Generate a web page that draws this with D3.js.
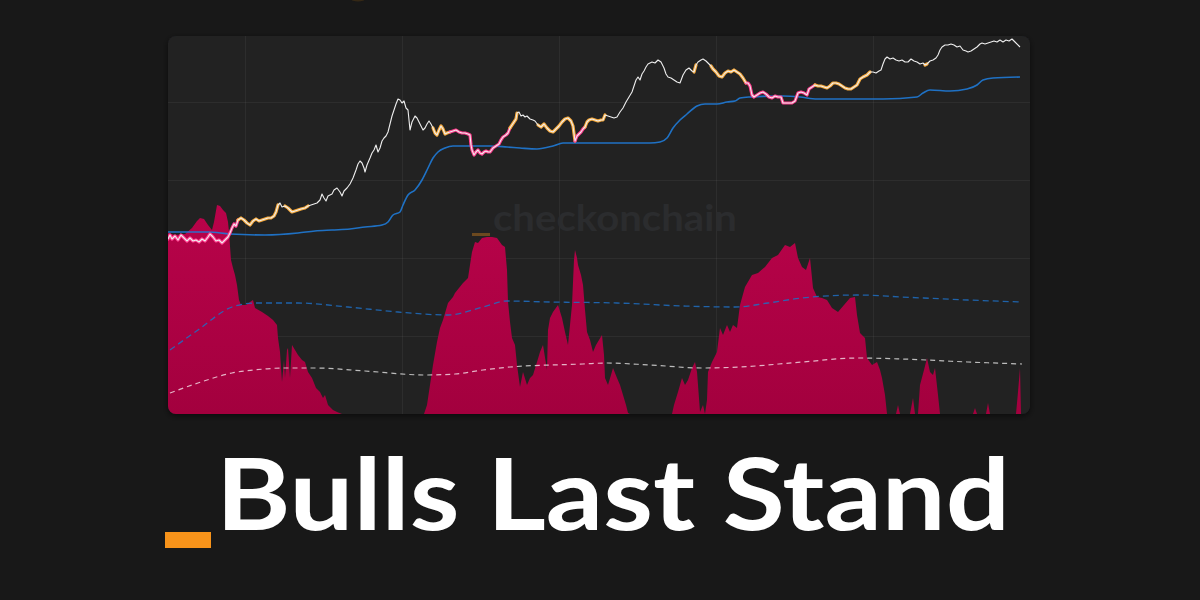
<!DOCTYPE html>
<html><head><meta charset="utf-8">
<script src="https://cdn.jsdelivr.net/npm/d3@7"></script>
<style>html,body{margin:0;padding:0;background:#181818;overflow:hidden}</style>
</head><body><svg id="c" width="1200" height="600"></svg>
<script>
// ---- data (day index, value) ----
const price = [[0,175],[2,179],[4,175],[7,178],[10,174],[13,179],[16,176],[19,173],[22,176],[25,173],[28,174],[31,172],[34,175],[37,173],[40,177],[42,180],[45,177],[48,173],[51,174],[54,171],[57,174],[60,177],[62,181],[64,186],[66,190],[68,188],[70,194],[73,196],[76,194],[79,191],[82,189],[85,193],[88,195],[91,193],[94,194],[97,195],[100,196],[103,196],[106,198],[108,202],[110,209],[112,211],[114,207],[117,208],[120,206],[122,204],[124,202],[127,203],[130,204],[133,205],[137,206],[140,208],[143,209],[146,210],[149,211],[152,214],[154,220],[156,216],[158,213],[160,218],[162,219],[164,220],[166,224],[169,226],[172,222],[174,218],[176,223],[179,226],[182,230],[185,236],[188,244],[190,250],[192,253],[194,251],[196,246],[197,242],[199,249],[202,256],[204,261],[206,264],[208,269],[210,262],[212,266],[214,273],[216,276],[218,278],[220,282],[222,290],[224,298],[226,304],[228,310],[230,315],[232,314],[234,311],[236,313],[238,306],[240,304],[242,284],[244,292],[247,298],[249,296],[251,292],[253,288],[255,284],[257,286],[259,290],[261,293],[263,290],[265,286],[267,281],[269,279],[271,284],[273,288],[275,285],[277,280],[279,281],[282,282],[285,283],[288,284],[291,282],[294,281],[297,281],[300,280],[302,279],[303,269],[304,264],[306,259],[308,262],[310,264],[312,261],[314,260],[316,262],[318,263],[320,262],[322,262],[325,266],[328,268],[331,270],[333,274],[335,277],[338,279],[340,281],[342,286],[344,289],[346,292],[348,295],[349,301],[351,302],[353,298],[355,299],[357,297],[359,298],[362,295],[365,294],[367,293],[370,289],[373,287],[376,290],[379,286],[382,283],[385,282],[388,285],[391,288],[394,292],[397,295],[400,296],[403,293],[405,288],[407,273],[409,278],[411,280],[413,282],[415,285],[417,287],[419,292],[421,294],[424,295],[427,294],[430,293],[433,294],[435,294],[437,299],[440,298],[443,297],[446,296],[449,297],[452,302],[455,306],[458,312],[461,317],[464,322],[466,328],[468,334],[470,337],[472,334],[474,340],[476,343],[478,347],[480,350],[482,351],[484,352],[487,351],[490,354],[493,352],[496,346],[498,340],[500,337],[503,336],[506,334],[509,332],[512,331],[515,339],[518,344],[521,346],[524,343],[526,342],[528,349],[530,352],[533,354],[535,355],[538,353],[541,350],[543,348],[545,345],[548,342],[551,338],[554,337],[557,341],[560,343],[563,342],[566,344],[569,342],[572,340],[575,336],[578,331],[580,331],[582,328],[584,319],[586,317],[589,319],[592,321],[595,322],[598,320],[601,317],[604,316],[607,318],[610,317],[613,317],[615,311],[618,311],[621,311],[624,311],[627,313],[630,321],[633,322],[636,321],[639,319],[641,325],[644,327],[647,329],[650,328],[653,328],[656,327],[659,326],[662,328],[665,331],[668,331],[671,330],[674,328],[677,326],[680,325],[683,325],[686,327],[689,329],[692,335],[695,337],[699,339],[702,342],[705,342],[708,341],[711,343],[713,344],[715,350],[717,355],[719,357],[722,355],[725,356],[728,354],[731,353],[734,354],[737,352],[740,352],[743,355],[746,353],[749,352],[752,350],[755,351],[757,349],[759,350],[762,353],[765,354],[768,356],[770,359],[772,364],[774,367],[777,369],[780,369],[783,370],[786,369],[789,367],[792,368],[795,364],[798,363],[800,362],[803,363],[806,365],[809,367],[812,370],[814,371],[817,370],[820,371],[823,372],[826,373],[829,372],[832,374],[835,372],[838,374],[841,373],[844,375],[847,372],[852,367]];

// regime of the price vs cost basis: start day, state
const priceRegimes = [[0,'below'],[70,'near'],[110,'above'],[116,'near'],[140,'above'],[265,'near'],[282,'below'],[342,'near'],[349,'above'],[369,'near'],[407,'below'],[417,'near'],[437,'above'],[525,'near'],[528,'above'],[543,'near'],[578,'below'],[647,'near'],[702,'above'],[756,'near'],[759,'above']];

const costBasis = [[0,182],[40,182],[62,180],[97,179],[130,181],[147,183],[164,184],[182,185],[197,187],[214,189],[220,192],[225,199],[232,202],[235,209],[240,219],[247,224],[254,234],[260,246],[265,256],[270,262],[277,266],[285,268],[305,268],[322,268],[339,267],[352,266],[369,265],[385,268],[395,271],[415,271],[449,271],[482,271],[492,272],[499,276],[505,286],[512,294],[519,300],[529,308],[537,310],[549,310],[559,312],[567,313],[572,316],[582,317],[615,318],[632,317],[649,315],[682,315],[715,315],[749,317],[755,321],[762,324],[782,323],[799,325],[809,329],[815,334],[825,336],[852,337]];

const oscillator = [[0,181],[7,179],[17,180],[24,186],[29,193],[32,196],[36,195],[40,189],[44,184],[46,192],[49,209],[52,208],[55,204],[58,201],[60,192],[61,182],[63,154],[65,146],[67,139],[69,129],[71,114],[73,109],[78,109],[82,112],[85,114],[87,106],[94,102],[100,98],[105,94],[109,89],[110,76],[112,62],[114,32],[116,54],[117,36],[119,64],[120,66],[122,36],[124,69],[127,64],[130,59],[134,54],[137,52],[140,42],[144,36],[148,26],[152,22],[155,16],[157,19],[160,9],[165,4],[169,2],[174,0],[256,0],[259,9],[262,29],[265,49],[269,72],[272,86],[275,94],[280,111],[285,117],[287,121],[291,126],[295,131],[300,136],[302,149],[304,162],[307,172],[310,171],[314,176],[319,177],[324,177],[329,176],[334,169],[337,167],[339,144],[340,112],[342,92],[344,76],[347,69],[349,49],[352,27],[355,42],[359,29],[362,36],[365,39],[369,52],[372,62],[375,69],[379,44],[380,84],[382,96],[385,102],[390,109],[394,96],[397,82],[400,69],[402,89],[404,109],[406,154],[407,164],[409,156],[410,149],[413,139],[415,129],[417,104],[419,82],[422,74],[425,62],[428,69],[431,74],[434,79],[436,59],[437,36],[440,29],[443,39],[445,46],[449,36],[452,29],[455,19],[458,9],[460,1],[462,0],[504,0],[506,9],[510,22],[514,36],[517,29],[520,34],[524,46],[527,52],[529,42],[530,29],[532,2],[535,9],[537,0],[539,14],[540,42],[544,52],[549,62],[552,86],[555,79],[559,89],[562,82],[565,89],[569,86],[572,109],[577,127],[584,139],[590,141],[597,147],[604,156],[610,159],[617,169],[622,167],[627,171],[630,156],[634,147],[638,144],[642,156],[645,126],[649,117],[654,116],[659,114],[664,106],[670,102],[676,109],[682,116],[687,117],[689,99],[692,81],[697,76],[699,56],[704,49],[709,52],[712,44],[714,36],[717,19],[719,0],[728,0],[730,9],[732,0],[742,0],[745,16],[747,0],[750,0],[752,29],[756,44],[759,56],[762,42],[765,39],[767,46],[770,19],[772,0],[805,0],[807,6],[809,0],[818,0],[820,11],[822,0],[848,0],[850,22],[852,46],[853,0]];

const oscUpperBand = [[2,64],[30,84],[64,107],[87,111],[130,111],[180,107],[230,102],[280,99],[315,107],[339,113],[382,112],[449,111],[515,108],[567,107],[600,111],[634,116],[690,119],[734,117],[800,114],[854,112]];
const oscLowerBand = [[2,21],[30,31],[64,41],[97,45],[114,46],[147,46],[197,43],[257,39],[287,40],[315,44],[342,47],[415,50],[439,51],[482,49],[535,46],[572,47],[634,52],[690,56],[734,55],[800,52],[854,50]];

const xGridTicks = [77,234,391,548,705];
const yGridTicks = [78,156,234,312];
const titleText = "Bulls Last Stand";
const watermarkText = "checkonchain";

// ---- layout ----
const P = {x:168, y:36, w:862, h:378, r:8};
const svg = d3.select('#c');
const x = d3.scaleLinear().domain([0,854]).range([168,1022]);
const yP = d3.scaleLinear().domain([0,378]).range([414,36]);
const yO = d3.scaleLinear().domain([0,378]).range([414,36]);

const defs = svg.append('defs');
defs.append('clipPath').attr('id','pc').append('rect')
  .attr('x',P.x).attr('y',P.y).attr('width',P.w).attr('height',P.h).attr('rx',P.r);
const f = defs.append('filter').attr('id','sh').attr('x','-5%').attr('y','-5%').attr('width','110%').attr('height','115%');
f.append('feDropShadow').attr('dx',0).attr('dy',2).attr('stdDeviation',3).attr('flood-color','#000').attr('flood-opacity',0.55);
const g = defs.append('linearGradient').attr('id','ag').attr('gradientUnits','userSpaceOnUse')
  .attr('x1',0).attr('x2',0).attr('y1',200).attr('y2',414);
g.append('stop').attr('offset',0).attr('stop-color','#b9034a');
g.append('stop').attr('offset',1).attr('stop-color','#a3003e');

// faint top blob
svg.append('ellipse').attr('cx',358).attr('cy',-1).attr('rx',7).attr('ry',2.5).attr('fill','#4a3414').attr('opacity',0.6);

// panel
svg.append('rect').attr('x',P.x).attr('y',P.y).attr('width',P.w).attr('height',P.h).attr('rx',P.r)
  .attr('fill','#212224').attr('filter','url(#sh)');

const plot = svg.append('g').attr('clip-path','url(#pc)');

// grid
const gx = plot.append('g').attr('transform','translate(0,414)')
  .call(d3.axisBottom(x).tickValues(xGridTicks).tickSize(-P.h).tickFormat(''));
gx.select('.domain').remove();
gx.selectAll('line').attr('stroke','#ffffff').attr('stroke-opacity',0.05);
const gy = plot.append('g').attr('transform','translate(168,0)')
  .call(d3.axisLeft(yP).tickValues(yGridTicks).tickSize(-P.w).tickFormat(''));
gy.select('.domain').remove();
gy.selectAll('line').attr('stroke','#ffffff').attr('stroke-opacity',0.05);

// watermark
plot.append('rect').attr('x',472).attr('y',233).attr('width',18).attr('height',3).attr('fill','#f7931a').attr('opacity',0.35);
plot.append('text').attr('x',493).attr('y',231).text(watermarkText)
  .attr('font-family','Lato, "Open Sans", sans-serif').attr('font-weight',700).attr('font-size',36)
  .attr('textLength',244).attr('lengthAdjust','spacingAndGlyphs').attr('fill','#2b2c2e');

// oscillator area
plot.append('path').datum(oscillator)
  .attr('d', d3.area().x(d=>x(d[0])).y0(yO(0)).y1(d=>yO(d[1])))
  .attr('fill','url(#ag)');

// bands
const bandLine = d3.line().x(d=>x(d[0])).y(d=>yO(d[1])).curve(d3.curveMonotoneX);
plot.append('path').datum(oscUpperBand).attr('d',bandLine).attr('fill','none')
  .attr('stroke','#1f6fc2').attr('stroke-opacity',0.85).attr('stroke-width',1.3).attr('stroke-dasharray','6,4');
plot.append('path').datum(oscLowerBand).attr('d',bandLine).attr('fill','none')
  .attr('stroke','#ffffff').attr('stroke-opacity',0.7).attr('stroke-width',1.2).attr('stroke-dasharray','5,4');

// cost basis
plot.append('path').datum(costBasis)
  .attr('d', d3.line().x(d=>x(d[0])).y(d=>yP(d[1])).curve(d3.curveMonotoneX))
  .attr('fill','none').attr('stroke','#1f7ad6').attr('stroke-opacity',0.9).attr('stroke-width',1.6);

// price regime segments
const regimeAt = d => { let r = priceRegimes[0][1]; for (const [s,k] of priceRegimes) if (d >= s) r = k; return r; };
const runs = [];
for (let i=0;i<price.length-1;i++){
  const k = regimeAt(price[i][0]);
  const last = runs[runs.length-1];
  if (last && last.k===k) last.pts.push(price[i+1]);
  else runs.push({k, pts:[price[i], price[i+1]]});
}
const regimeColor = {below:'#ff3d8e', near:'#f7a93a'};
const pLine = d3.line().x(d=>x(d[0])).y(d=>yP(d[1]));
plot.selectAll('path.run').data(runs.filter(r=>r.k!=='above')).join('path').attr('class','run')
  .attr('d',r=>pLine(r.pts)).attr('fill','none').attr('stroke',r=>regimeColor[r.k])
  .attr('stroke-width',3.2).attr('stroke-linejoin','round').attr('stroke-linecap','round');
plot.append('path').datum(price).attr('d',pLine).attr('fill','none')
  .attr('stroke','#eeeeee').attr('stroke-width',1.1).attr('stroke-linejoin','round');

// title
svg.append('rect').attr('x',165).attr('y',532).attr('width',46).attr('height',16).attr('fill','#f7931a');
svg.append('text').attr('x',216).attr('y',530).text(titleText)
  .attr('font-family','Lato, "Open Sans", sans-serif').attr('font-weight',700).attr('font-size',100)
  .attr('textLength',794).attr('lengthAdjust','spacingAndGlyphs').attr('fill','#ffffff');
</script></body></html>
